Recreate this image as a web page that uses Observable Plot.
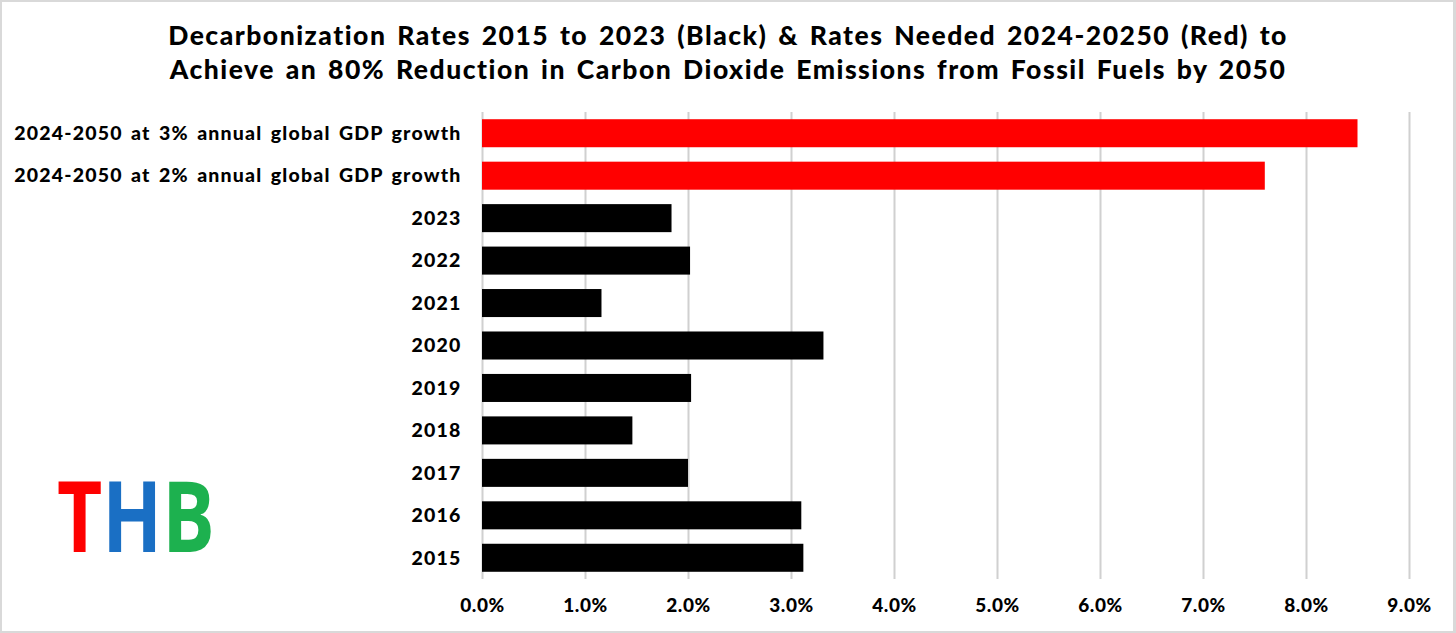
<!DOCTYPE html>
<html>
<head>
<meta charset="utf-8">
<script src="https://cdn.jsdelivr.net/npm/d3@7"></script>
<script src="https://cdn.jsdelivr.net/npm/@observablehq/plot@0.6"></script>
<style>
  html, body { margin: 0; padding: 0; background: #fff; }
  #wrap { position: relative; width: 1456px; height: 633px; overflow: hidden; background: #fff; font-family: Lato, "Open Sans", sans-serif; }
  #title { height: 100px; box-sizing: border-box; padding-top: 18px; text-align: center; font-weight: 900; font-size: 26.5px; line-height: 34px; color: #000; letter-spacing: 1.5px; word-spacing: 3px; }
  #chart svg { display: block; }
  #chart svg g[aria-label="y-axis tick label"] text { letter-spacing: 1.2px; word-spacing: 2.5px; }
  #chart svg g[aria-label="x-axis tick label"] text { letter-spacing: 0.6px; }
  #logo { position: absolute; left: 57px; top: 459px; font-family: "Open Sans", sans-serif; font-weight: 700; font-size: 99px; line-height: 110px; letter-spacing: 0px; transform: scaleX(0.79); transform-origin: 0 0; }
  #border { position: absolute; left: 0; top: 0; width: 1456px; height: 633px; box-sizing: border-box; border: 2px solid #d9d9d9; border-right-width: 3px; pointer-events: none; }
</style>
</head>
<body>
<div id="wrap">
  <div id="title">Decarbonization Rates 2015 to 2023 (Black) &amp; Rates Needed 2024-20250 (Red) to<br>Achieve an 80% Reduction in Carbon Dioxide Emissions from Fossil Fuels by 2050</div>
  <div id="chart"></div>
  <div id="logo"><span style="color:#fe0000">T</span><span style="color:#1a6fc4">H</span><span style="color:#1db14f">B</span></div>
  <div id="border"></div>
</div>
<script>
const categories = [
  "2024-2050 at 3% annual global GDP growth",
  "2024-2050 at 2% annual global GDP growth",
  "2023", "2022", "2021", "2020", "2019", "2018", "2017", "2016", "2015"
];
const rates = [8.50, 7.60, 1.84, 2.02, 1.16, 3.315, 2.03, 1.46, 2.00, 3.10, 3.12];
const barColors = ["#ff0000", "#ff0000", "#000", "#000", "#000", "#000", "#000", "#000", "#000", "#000", "#000"];
const xTicks = [0, 1, 2, 3, 4, 5, 6, 7, 8, 9];

const data = categories.map((c, i) => ({cat: c, value: rates[i], color: barColors[i]}));

const chart = Plot.plot({
  width: 1456,
  height: 533,
  marginTop: 12,
  marginBottom: 54,
  marginLeft: 482,
  marginRight: 47,
  style: {fontFamily: "Lato, 'Open Sans', sans-serif", background: "#fff", overflow: "visible"},
  x: {domain: [0, 9], ticks: xTicks, tickFormat: d => d.toFixed(1) + "%", label: null},
  y: {domain: categories, paddingInner: 0.34, paddingOuter: 0.17, round: false, label: null},
  marks: [
    Plot.gridX(xTicks, {stroke: "#d0d0d0", strokeOpacity: 1, strokeWidth: 2}),
    Plot.barX(data, {y: "cat", x: "value", fill: "color"}),
    Plot.axisX({ticks: xTicks, tickFormat: d => d.toFixed(1) + "%", tickSize: 0, tickPadding: 19, fontSize: 19, fontWeight: 900, fill: "#000", label: null}),
    Plot.axisY({tickSize: 0, tickPadding: 21, fontSize: 19.5, fontWeight: 900, fill: "#000", label: null})
  ]
});
document.getElementById("chart").appendChild(chart);
</script>
</body>
</html>
